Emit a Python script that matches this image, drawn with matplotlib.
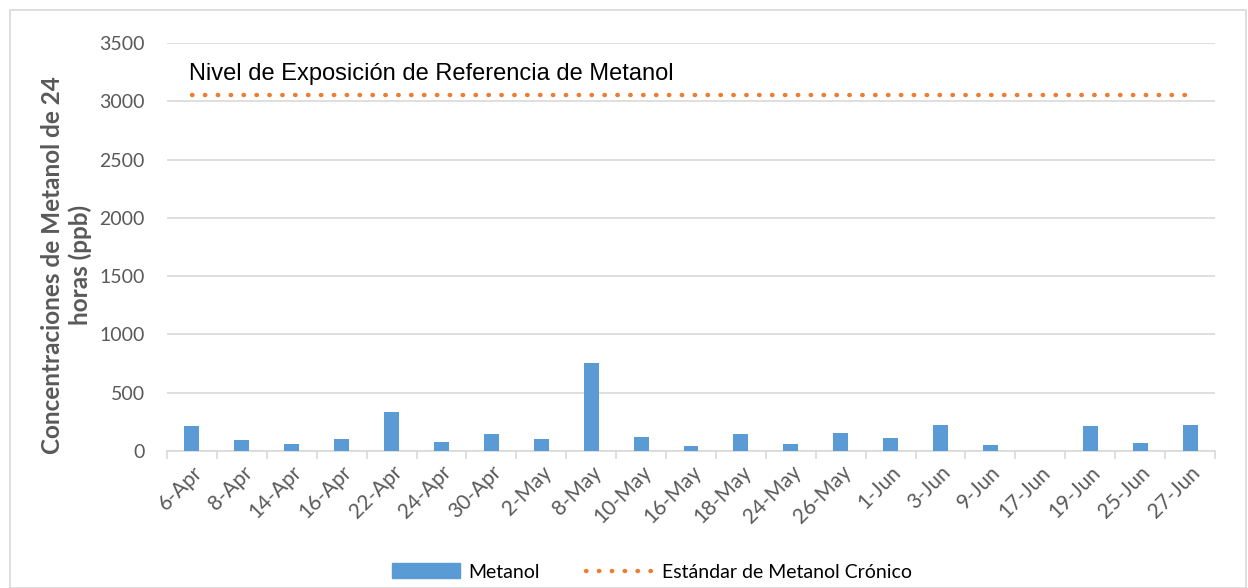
import numpy as np
import matplotlib.pyplot as plt
from matplotlib.patches import Rectangle
from matplotlib.lines import Line2D

# Datos
fechas = ['6-Apr', '8-Apr', '14-Apr', '16-Apr', '22-Apr', '24-Apr', '30-Apr',
          '2-May', '8-May', '10-May', '16-May', '18-May', '24-May', '26-May',
          '1-Jun', '3-Jun', '9-Jun', '17-Jun', '19-Jun', '25-Jun', '27-Jun']
metanol = [215, 92, 64, 105, 337, 81, 145, 99, 753, 116, 47,
           145, 58, 151, 108, 221, 55, 0, 212, 67, 227]
estandar = 3050
nivel_texto = 'Nivel de Exposición de Referencia de Metanol'

plt.rcParams['font.family'] = ['Lato', 'DejaVu Sans']

fig = plt.figure(figsize=(12.48, 5.88), dpi=100)
ax = fig.add_axes([167 / 1248, 1 - 451 / 588, 1048 / 1248, 408 / 588])

x = np.arange(len(fechas))
puntos = (0, (0.1, 2.8))
ax.bar(x, metanol, width=0.3, color='#5B9BD5', zorder=3, label='Metanol')
ax.plot(x, [estandar] * len(x), color='#ED7D31', linestyle=puntos,
        linewidth=3.2, dash_capstyle='round', zorder=3,
        label='Estándar de Metanol Crónico')

ax.set_xlim(-0.5, len(fechas) - 0.5)
ax.set_ylim(0, 3500)
ax.set_yticks(np.arange(0, 3501, 500))
ax.yaxis.grid(True, color='#D9D9D9', linewidth=1.2, zorder=0)
ax.set_xticks(x)
ax.set_xticklabels(fechas, rotation=45, ha='right', rotation_mode='anchor')
ax.set_xticks(np.arange(-0.5, len(fechas), 1), minor=True)
ax.tick_params(axis='x', which='major', length=0, labelsize=15,
               labelcolor='#595959', pad=8)
ax.tick_params(axis='x', which='minor', length=6, color='#D9D9D9', width=1.2)
ax.tick_params(axis='y', length=0, labelsize=14, labelcolor='#595959', pad=16)
for s in ['top', 'right', 'left']:
    ax.spines[s].set_visible(False)
ax.spines['bottom'].set_color('#D9D9D9')
ax.spines['bottom'].set_linewidth(1.2)

ax.set_ylabel('Concentraciones de Metanol de 24\nhoras (ppb)', fontsize=17.5,
              fontweight='bold', color='#595959')
ax.yaxis.set_label_coords(-0.072, 0.455)

ax.text(-0.05, 3230, nivel_texto, fontsize=17, family='Liberation Sans',
        color='black', va='center', ha='left')

handles = [Rectangle((0, 0), 1, 1, color='#5B9BD5'),
           Line2D([0], [0], color='#ED7D31', linestyle=puntos,
                  linewidth=3.2, dash_capstyle='round')]
fig.legend(handles, ['Metanol', 'Estándar de Metanol Crónico'],
           loc='center', bbox_to_anchor=(652 / 1248, 1 - 572 / 588), ncol=2,
           frameon=False, fontsize=14, handlelength=3.5, handleheight=0.8,
           columnspacing=2.4, handletextpad=0.4)

# Borde del grafico
fig.patches.append(Rectangle((10 / 1248, 0), 1236 / 1248, 578 / 588,
                             transform=fig.transFigure, fill=False,
                             edgecolor='#D9D9D9', linewidth=1.2))

fig.savefig('out.png', dpi=100)
